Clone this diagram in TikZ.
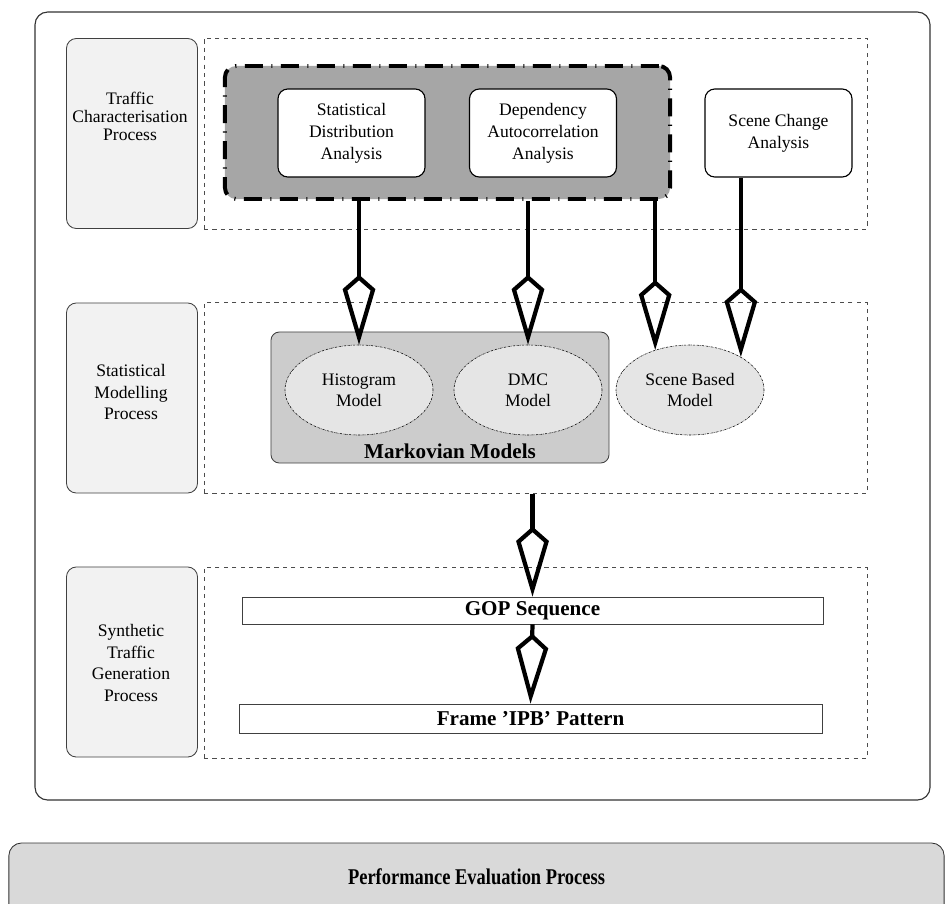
\documentclass[tikz,border=0pt]{standalone}
\usepackage{fontspec}
\setmainfont{Liberation Serif}
\usepackage{graphicx}
\usetikzlibrary{shapes.geometric, arrows.meta, positioning, calc}

\begin{document}
\begin{tikzpicture}[
    x=0.025cm, y=-0.025cm,
    panel/.style={rectangle, rounded corners=7pt, draw=black!75, fill=black!5, line width=0.6pt, minimum width=3.275cm, minimum height=4.75cm},
    paneltext/.style={align=center, font=\fontsize{12.5}{15.5}\selectfont},
    zone/.style={rectangle, draw=black!70, dashed, line width=0.5pt, minimum width=16.575cm, minimum height=4.775cm},
    group/.style={rectangle, rounded corners=8pt, draw=black, fill=black!35, line width=2.8pt, dash pattern=on 12.8pt off 6pt on 0.8pt off 6pt, minimum width=11.125cm, minimum height=3.325cm},
    task/.style={rectangle, rounded corners=7pt, draw=black, fill=white, line width=0.8pt, minimum width=3.675cm, minimum height=2.2cm, align=center, font=\fontsize{12.5}{15.5}\selectfont},
    markov/.style={rectangle, rounded corners=6pt, draw=black!75, fill=black!20, line width=0.6pt, minimum width=8.45cm, minimum height=3.275cm},
    model/.style={ellipse, draw=black, fill=black!10, line width=0.4pt, dash pattern=on 1.5pt off 0.7pt on 0.3pt off 0.7pt, minimum width=3.7cm, minimum height=2.25cm, align=center, font=\fontsize{12.5}{15}\selectfont},
    seqbox/.style={rectangle, draw=black!75, fill=white, line width=0.6pt, inner sep=0pt, font=\bfseries\fontsize{15}{18}\selectfont},
    flow/.style={line width=3pt, -{Kite[open, length=1.75cm, width=0.82cm, inset=0.36cm]}}
]
\useasboundingbox (0,0) rectangle (946,903);

% Outer frame
\draw[rounded corners=9pt, draw=black!80, line width=0.8pt] (35,12) rectangle (930,800);

% Process panels on the left
\node[panel] (pchar) at (132,133.5) {};
\node[panel] (pmod) at (132,398) {};
\node[panel] (pgen) at (132,662) {};
\node[paneltext, font=\fontsize{12.5}{12.8}\selectfont] (tchar) at (130,116) {Traffic\\Characterisation\\Process};
\node[paneltext] (tmod) at (131,392) {Statistical\\Modelling\\Process};
\node[paneltext] (tgen) at (131,663) {Synthetic\\Traffic\\Generation\\Process};

% Dashed zones
\node[zone] (zchar) at (535.5,133.5) {};
\node[zone] (zmod) at (535.5,398) {};
\node[zone] (zgen) at (535.5,663) {};

% Analysis stage
\node[group] (grp) at (447.5,132.5) {};
\node[task] (sda) at (351.5,133) {Statistical\\Distribution\\Analysis};
\node[task] (daa) at (543,133) {Dependency\\Autocorrelation\\Analysis};
\node[task] (sca) at (778.5,133) {Scene Change\\Analysis};

% Models
\node[markov] (mkv) at (440,397.5) {};
\node[font=\bfseries\fontsize{15}{18}\selectfont] (mkvt) at (450,451) {Markovian Models};
\node[model] (hist) at (359,390) {Histogram\\Model};
\node[model] (dmc) at (528,390) {DMC\\Model};
\node[model] (sbm) at (690,390) {Scene Based\\Model};

% Generation
\node[seqbox, minimum width=14.525cm, minimum height=0.675cm] (gop) at (532.5,610.5) {GOP Sequence};
\node[seqbox, minimum width=14.575cm, minimum height=0.725cm] (ipb) at (530.5,718.5) {Frame 'IPB' Pattern};

% Performance evaluation
\node[rectangle, rounded corners=9pt, draw=black!80, fill=black!15, line width=0.6pt, minimum width=23.375cm, minimum height=2.35cm] (pep) at (476.5,890) {};
\node[font=\bfseries\fontsize{16}{19}\selectfont] (pept) at (476.5,877) {\scalebox{0.82}[1]{Performance Evaluation Process}};

% Connectors
\coordinate (sb1) at (sbm.131);
\coordinate (sb2) at (sbm.33);
\draw[flow] (grp.south -| hist.north) -- (hist.north);
\draw[flow] (grp.south -| dmc.north) -- (dmc.north);
\draw[flow] (grp.south -| sb1) -- (sb1);
\draw[flow] (sca.south -| sb2) -- (sb2);
\draw[flow] (zmod.south -| gop.north) -- (gop.north);
\draw[flow] (gop.south) -- (ipb.north);
\end{tikzpicture}
\end{document}
